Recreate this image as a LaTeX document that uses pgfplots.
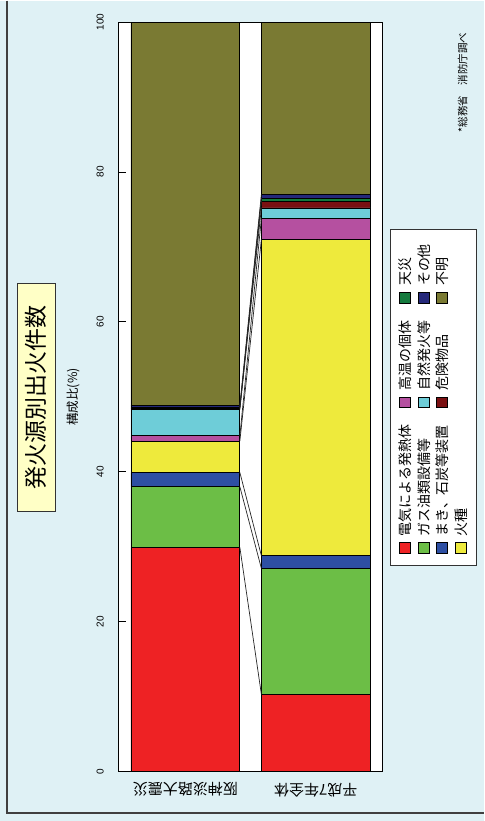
\documentclass[border=0pt]{standalone}
\usepackage{pgfplots}
\pgfplotsset{compat=1.18}
\usepackage{fontspec}
\setmainfont{Noto Sans CJK JP}
\newfontfamily\arialf{Liberation Sans}
\definecolor{bg}{HTML}{DFF1F5}
\definecolor{titlebg}{HTML}{FFFFC6}
\definecolor{cred}{HTML}{EE2224}
\definecolor{cgreen}{HTML}{6CBE46}
\definecolor{cblue}{HTML}{2E4FA3}
\definecolor{cyellow}{HTML}{EEEA3C}
\definecolor{cmagenta}{HTML}{B550A0}
\definecolor{ccyan}{HTML}{6ECDD8}
\definecolor{cdred}{HTML}{7A1012}
\definecolor{cdgreen}{HTML}{157A3E}
\definecolor{cnavy}{HTML}{25287A}
\definecolor{colive}{HTML}{7A7A33}
\begin{document}
\begin{tikzpicture}[x=1pt,y=1pt]
\fill[bg] (0,0) rectangle (484,821);
\draw[black!75, line width=1.2pt] (7,821) -- (7,8) -- (484,8);
\begin{axis}[
  at={(119pt,49.5pt)}, anchor=south west,
  scale only axis, width=264pt, height=750pt,
  xmin=-0.51, xmax=1.513, ymin=0, ymax=100,
  ybar stacked, bar width=109pt,
  axis background/.style={fill=white},
  axis line style={black, line width=0.9pt},
  xtick={0,1}, xticklabels={阪神淡路大震災,平成7年全体},
  ytick={0,20,40,60,80,100},
  tick align=inside, xtick pos=left, ytick pos=left,
  major tick length=7pt,
  tick style={black, line width=0.8pt},
  xticklabel style={rotate=180, anchor=south, inner ysep=11pt, font=\fontsize{15}{15}\selectfont},
  yticklabel style={rotate=90, anchor=south, inner ysep=15pt, font=\arialf\fontsize{10}{10}\selectfont},
  /pgf/number format/assume math mode=true,
  ylabel={構成比(\%)},
  every axis y label/.style={at={(axis description cs:-0.174,0.5)}, rotate=90, anchor=center, font=\fontsize{12.5}{12.5}\selectfont},
]
\addplot[fill=cred, draw=black, line width=0.8pt] coordinates {(0,29.9) (1,10.3)};
\addplot[fill=cgreen, draw=black, line width=0.8pt] coordinates {(0,8.1) (1,16.8)};
\addplot[fill=cblue, draw=black, line width=0.8pt] coordinates {(0,1.9) (1,1.7)};
\addplot[fill=cyellow, draw=black, line width=0.8pt] coordinates {(0,4.2) (1,42.2)};
\addplot[fill=cmagenta, draw=black, line width=0.8pt] coordinates {(0,0.7) (1,2.8)};
\addplot[fill=ccyan, draw=black, line width=0.8pt] coordinates {(0,3.5) (1,1.4)};
\addplot[fill=cdred, draw=black, line width=0.8pt] coordinates {(0,0.2) (1,0.9)};
\addplot[fill=cdgreen, draw=black, line width=0.8pt] coordinates {(0,0.1) (1,0.4)};
\addplot[fill=cnavy, draw=black, line width=0.8pt] coordinates {(0,0.3) (1,0.5)};
\addplot[fill=colive, draw=black, line width=0.8pt] coordinates {(0,51.1) (1,23.0)};
\end{axis}
\begin{axis}[
  at={(119pt,49.5pt)}, anchor=south west,
  scale only axis, width=264pt, height=750pt,
  xmin=-0.51, xmax=1.513, ymin=0, ymax=100,
  hide axis,
]
\addplot[black!85, line width=0.7pt] coordinates {(0.4175,29.9) (0.5825,10.3)};
\addplot[black!85, line width=0.7pt] coordinates {(0.4175,38.0) (0.5825,27.1)};
\addplot[black!85, line width=0.7pt] coordinates {(0.4175,39.9) (0.5825,28.8)};
\addplot[black!85, line width=0.7pt] coordinates {(0.4175,44.1) (0.5825,71.0)};
\addplot[black!85, line width=0.7pt] coordinates {(0.4175,44.8) (0.5825,73.8)};
\addplot[black!85, line width=0.7pt] coordinates {(0.4175,48.3) (0.5825,75.2)};
\addplot[black!85, line width=0.7pt] coordinates {(0.4175,48.5) (0.5825,76.1)};
\addplot[black!85, line width=0.7pt] coordinates {(0.4175,48.6) (0.5825,76.5)};
\addplot[black!85, line width=0.7pt] coordinates {(0.4175,48.9) (0.5825,77.0)};
\end{axis}
% legend (rotated, drawn as a unit)
\begin{scope}[shift={(434,424)}, rotate=90, transform shape]
\draw[black!80, line width=0.6pt, fill=white] (-168,-43) rectangle (168,43);
\foreach \c/\t/\x/\y in {
  cred/電気による発熱体/-150.5/28.5,
  cgreen/ガス油類設備等/-150.5/10,
  cblue/まき、石炭等装置/-150.5/-8.5,
  cyellow/火種/-150.5/-27.5,
  cmagenta/高温の個体/-5/28.5,
  ccyan/自然発火等/-5/10,
  cdred/危険物品/-5/-8.5,
  cdgreen/天災/99.7/28.5,
  cnavy/その他/99.7/10,
  colive/不明/99.7/-8.5}
{
  \draw[fill=\c, draw=black, line width=0.6pt] (\x-5.5,\y-5.5) rectangle (\x+5.5,\y+5.5);
  \node[anchor=west, inner sep=0pt, font=\fontsize{14}{14}\selectfont] at (\x+11.5,\y) {\t};
}
\end{scope}
\node[rotate=90, draw=black!80, line width=0.8pt, fill=titlebg, minimum width=228pt, minimum height=38pt, inner sep=0pt, font=\fontsize{23}{23}\selectfont] at (36,424) {発火源別出火件数};
\node[rotate=90, font=\fontsize{10.5}{10.5}\selectfont, inner sep=0pt] at (463,739) {*総務省　消防庁調べ};
\end{tikzpicture}
\end{document}
